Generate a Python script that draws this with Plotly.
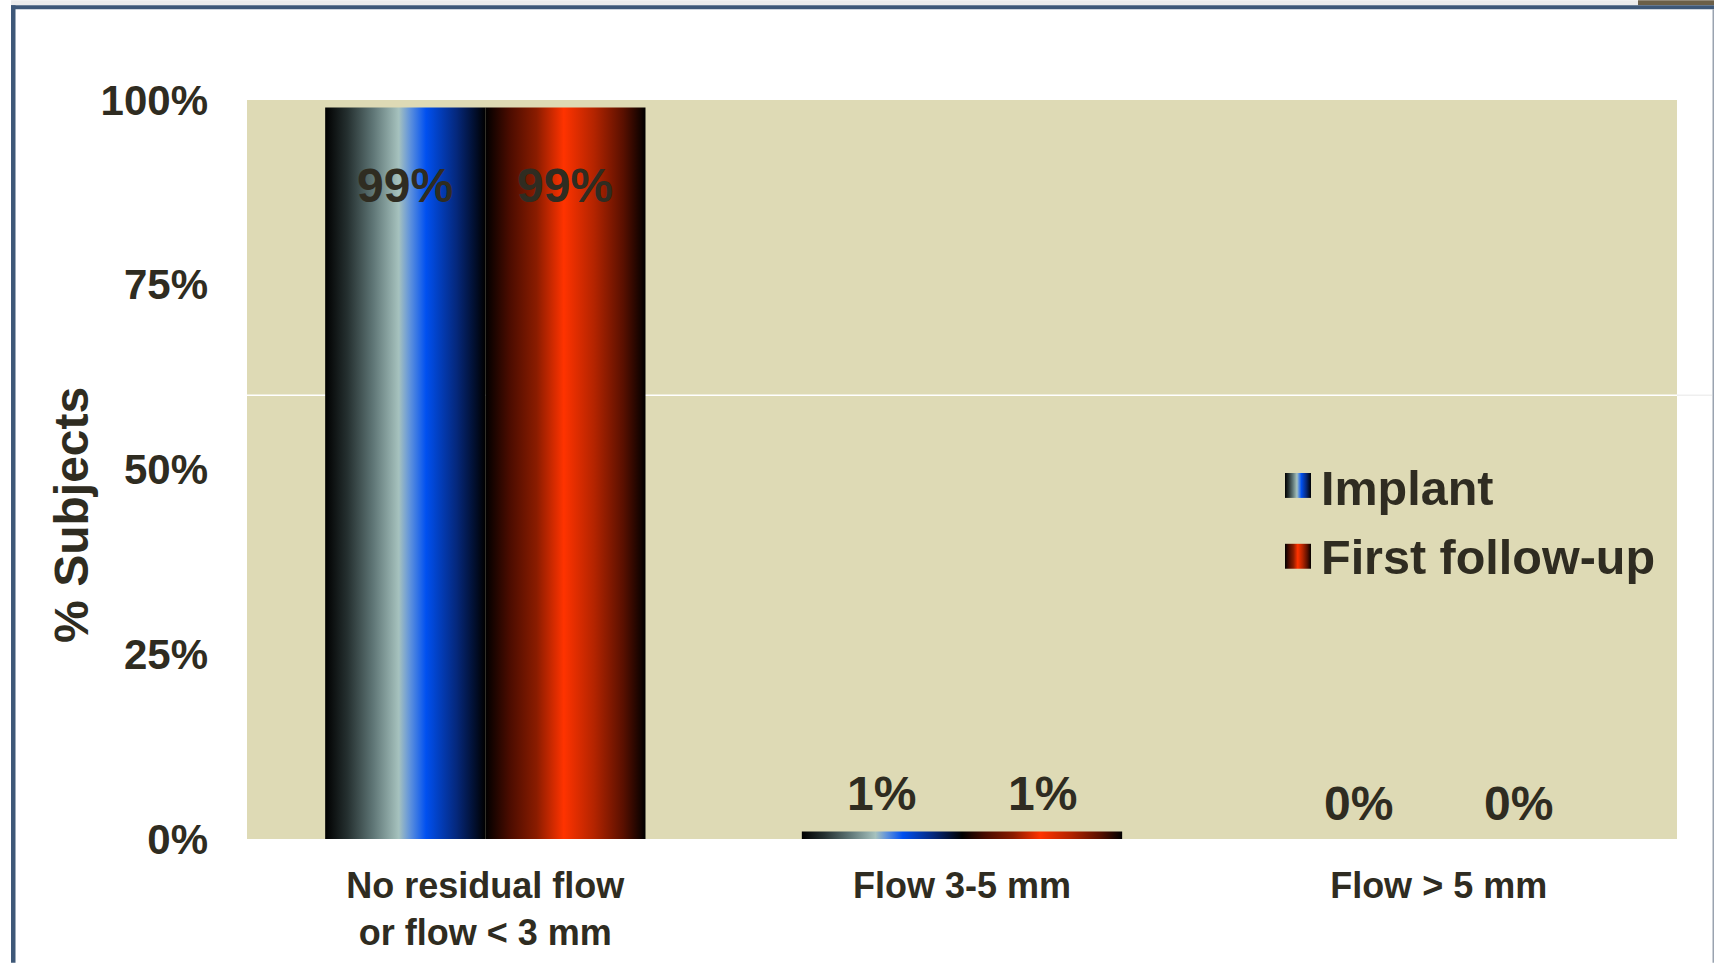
import plotly.graph_objects as go

# ---- data ----
categories = ["No residual flow<br>or flow < 3 mm", "Flow 3-5 mm", "Flow > 5 mm"]
implant = [99, 1, 0]
follow_up = [99, 1, 0]
series_names = ["Implant", "First follow-up"]
y_ticks = [0, 25, 50, 75, 100]
y_tick_labels = ["0%", "25%", "50%", "75%", "100%"]

# ---- layout constants ----
W, H = 1714, 965
L, R, T, B = 247, 37, 100, 124
PW, PH = W - L - R, H - T - B
TXT = "#2f2c21"
BG = "#dedab5"
FONT = "Liberation Sans, Arial, sans-serif"


def px(xp):
    return (xp - L) / PW


def py(yp):
    return (H - B - yp) / PH


blue_scale = [[0.0, "#000000"], [0.14, "#253030"], [0.30, "#5f7676"], [0.46, "#a6c2be"],
              [0.53, "#5f92dc"], [0.63, "#0050f0"], [0.82, "#05287c"], [1.0, "#000000"]]
red_scale = [[0.0, "#000000"], [0.15, "#4a0c00"], [0.32, "#8a1c00"], [0.49, "#ff3300"],
             [0.68, "#b32400"], [0.86, "#5a1000"], [1.0, "#000000"]]

BAR_W = 0.336
series = [(series_names[0], implant, blue_scale, -BAR_W), (series_names[1], follow_up, red_scale, 0.0)]

fig = go.Figure()
annotations = []
for name, vals, cs, off in series:
    for i, v in enumerate(vals):
        x0 = i + off
        x1 = x0 + BAR_W
        fig.add_trace(go.Scatter(
            x=[x0, x1, x1, x0, x0], y=[0, 0, v, v, 0],
            fill="toself", mode="none",
            fillgradient=dict(type="horizontal", colorscale=cs),
            name=name, showlegend=False, hoverinfo="skip"))
        annotations.append(dict(
            x=(x0 + x1) / 2, y=v, xref="x", yref="y", text=f"<b>{v}%</b>",
            showarrow=False, xanchor="center", yanchor="middle",
            yshift=(-78 if v > 50 else (38 if v > 0 else 36)),
            font=dict(family=FONT, size=48, color=TXT)))

# ---- custom legend (gradient swatches on an invisible pixel-space overlay axis) ----
legend_rows = [(series_names[0], blue_scale, 474, 499, 489),
               (series_names[1], red_scale, 545, 570, 558)]
for name, cs, y0, y1, yt in legend_rows:
    fig.add_trace(go.Scatter(
        x=[1285, 1311, 1311, 1285, 1285], y=[y0, y0, y1, y1, y0],
        xaxis="x2", yaxis="y2", fill="toself", mode="none",
        fillgradient=dict(type="horizontal", colorscale=cs),
        showlegend=False, hoverinfo="skip"))
    annotations.append(dict(
        x=px(1319), y=py(yt), xref="paper", yref="paper", text=f"<b>{name}</b>",
        showarrow=False, xanchor="left", yanchor="middle",
        font=dict(family=FONT, size=48.5, color=TXT)))

# y axis title
annotations.append(dict(
    x=px(72), y=py(516), xref="paper", yref="paper", text="<b>% Subjects</b>",
    textangle=-90, showarrow=False, xanchor="center", yanchor="middle",
    font=dict(family=FONT, size=48, color=TXT)))

shapes = [
    # slide frame artifacts
    dict(type="rect", xref="paper", yref="paper", x0=px(11), x1=px(1638), y0=py(0), y1=py(5),
         fillcolor="#ececec", line_width=0, layer="above"),
    dict(type="rect", xref="paper", yref="paper", x0=px(1638), x1=px(1714), y0=py(0), y1=py(5),
         fillcolor="#6b5f48", line_width=0, layer="above"),
    dict(type="rect", xref="paper", yref="paper", x0=px(11), x1=px(1714), y0=py(5), y1=py(9),
         fillcolor="#3e5878", line_width=0, layer="above"),
    dict(type="rect", xref="paper", yref="paper", x0=px(11), x1=px(15.5), y0=py(5), y1=py(965),
         fillcolor="#3e5878", line_width=0, layer="above"),
    dict(type="rect", xref="paper", yref="paper", x0=px(1712.5), x1=px(1714), y0=py(9), y1=py(965),
         fillcolor="#9aa3b0", line_width=0, layer="above"),
    dict(type="line", xref="paper", yref="paper", x0=px(247), x1=px(1677), y0=py(396), y1=py(396),
         line=dict(color="#ffffff", width=1.5), layer="below"),
    dict(type="line", xref="paper", yref="paper", x0=px(1677), x1=px(1712), y0=py(396), y1=py(396),
         line=dict(color="#efefef", width=1.5), layer="above"),
]

fig.update_layout(
    width=W, height=H,
    margin=dict(l=L, r=R, t=T, b=B, pad=0),
    paper_bgcolor="#ffffff", plot_bgcolor=BG,
    font=dict(family=FONT, color=TXT),
    showlegend=False,
    annotations=annotations,
    shapes=shapes,
    xaxis=dict(range=[-0.5, 2.5], tickmode="array", tickvals=list(range(len(categories))),
               ticktext=[f"<b>{c}</b>".replace("<br>", "</b><br><b>") for c in categories],
               showgrid=False, zeroline=False, showline=False, ticks="",
               ticklabelstandoff=22,
               tickfont=dict(family=FONT, size=36, color=TXT), fixedrange=True),
    yaxis=dict(range=[0, 100], tickmode="array", tickvals=y_ticks,
               ticktext=[f"<b>{t}</b>" for t in y_tick_labels],
               showgrid=False, zeroline=False, showline=False, ticks="",
               ticklabelstandoff=38,
               tickfont=dict(family=FONT, size=42, color=TXT), fixedrange=True),
    xaxis2=dict(overlaying="x", range=[L, W - R], visible=False, fixedrange=True),
    yaxis2=dict(overlaying="y", range=[H - B, T], visible=False, fixedrange=True),
)

fig.write_html("out.html")
